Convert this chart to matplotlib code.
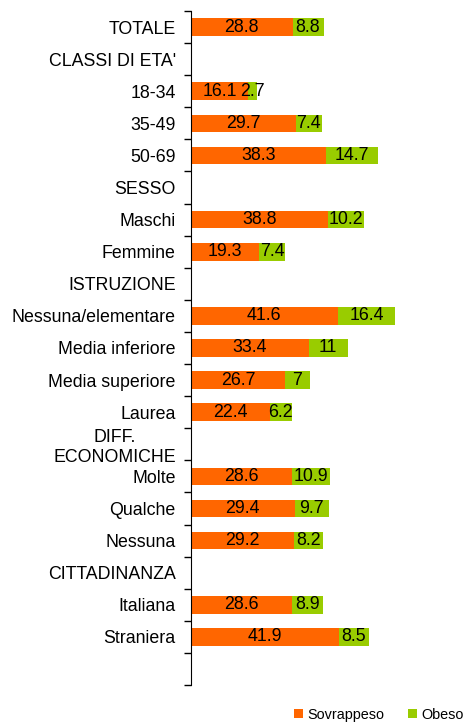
import matplotlib as mpl
mpl.use("Agg")
import matplotlib.pyplot as plt
import numpy as np

categories = ["TOTALE", "CLASSI DI ETA'", "18-34", "35-49", "50-69", "SESSO",
              "Maschi", "Femmine", "ISTRUZIONE", "Nessuna/elementare",
              "Media inferiore", "Media superiore", "Laurea",
              "DIFF.\nECONOMICHE", "Molte", "Qualche", "Nessuna",
              "CITTADINANZA", "Italiana", "Straniera", ""]
sovrappeso = [28.8, None, 16.1, 29.7, 38.3, None, 38.8, 19.3, None, 41.6,
              33.4, 26.7, 22.4, None, 28.6, 29.4, 29.2, None, 28.6, 41.9, None]
obeso = [8.8, None, 2.7, 7.4, 14.7, None, 10.2, 7.4, None, 16.4,
         11, 7, 6.2, None, 10.9, 9.7, 8.2, None, 8.9, 8.5, None]

plt.rcParams['font.family'] = ['Liberation Sans', 'DejaVu Sans']

fig = plt.figure(figsize=(4.66, 7.22), dpi=100)
ax = fig.add_axes([191/466, 1 - 685/722, 1 - 191/466, 674/722])

y = np.arange(len(categories))
s = np.array([np.nan if v is None else v for v in sovrappeso])
o = np.array([np.nan if v is None else v for v in obeso])

b1 = ax.barh(y, s, height=0.55, color='#FF6600', label='Sovrappeso')
b2 = ax.barh(y, o, left=s, height=0.55, color='#99CC00', label='Obeso')

for bars, vals in [(b1, sovrappeso), (b2, obeso)]:
    for rect, v in zip(bars, vals):
        if v is not None:
            ax.text(rect.get_x() + rect.get_width() / 2, rect.get_y() + rect.get_height() / 2,
                    f'{v:g}', ha='center', va='center', fontsize=12.8, color='black')

ax.set_xlim(0, 78)
ax.set_ylim(len(categories) - 0.5, -0.5)
ax.set_yticks(y)
ax.set_yticklabels(categories, fontsize=12.8)
for lbl in ax.get_yticklabels():
    if '\n' in lbl.get_text():
        lbl.set_multialignment('center')
ax.set_yticks(np.arange(-0.5, len(categories), 1), minor=True)
ax.tick_params(axis='y', which='major', length=0, pad=11)
ax.tick_params(axis='y', which='minor', length=5, width=1, color='black')
ax.set_xticks([])

for side in ['top', 'right', 'bottom']:
    ax.spines[side].set_visible(False)
ax.spines['left'].set_color('black')

fig.legend(handles=[b1, b2], loc='center', bbox_to_anchor=(379/466, 1 - 715/722),
           ncol=2, frameon=False, fontsize=10.4, handlelength=0.6, handleheight=0.6,
           handletextpad=0.35, columnspacing=1.6, borderpad=0.1)

fig.savefig('out.png', dpi=100)
